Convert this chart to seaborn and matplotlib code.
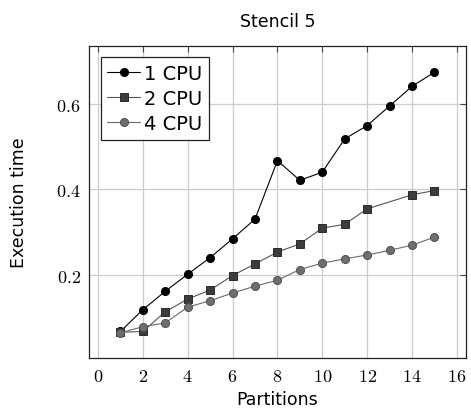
import matplotlib
matplotlib.use("Agg")
import matplotlib.pyplot as plt
import matplotlib.ticker as mticker
import seaborn as sns
import pandas as pd

# data
partitions = [1, 2, 3, 4, 5, 6, 7, 8, 9, 10, 11, 12, 13, 14, 15]
cpu1 = [0.067, 0.118, 0.161, 0.201, 0.240, 0.284, 0.330, 0.467, 0.421,
        0.440, 0.518, 0.549, 0.595, 0.641, 0.674]
# 2 CPU has no point at 13
partitions_2 = [1, 2, 3, 4, 5, 6, 7, 8, 9, 10, 11, 12, 14, 15]
cpu2 = [0.065, 0.067, 0.113, 0.143, 0.164, 0.198, 0.225, 0.253, 0.272,
        0.309, 0.318, 0.354, 0.387, 0.397]
cpu4 = [0.064, 0.078, 0.087, 0.124, 0.139, 0.157, 0.173, 0.187, 0.212,
        0.227, 0.237, 0.246, 0.257, 0.269, 0.288]

x_ticks = [0, 2, 4, 6, 8, 10, 12, 14, 16]
y_ticks = [0.2, 0.4, 0.6]

sns.set_style("white")
plt.rcParams['font.family'] = ['DejaVu Sans']
plt.rcParams['mathtext.fontset'] = 'cm'
plt.rcParams['text.color'] = 'black'
plt.rcParams['axes.labelcolor'] = 'black'
plt.rcParams['xtick.labelcolor'] = 'black'
plt.rcParams['ytick.labelcolor'] = 'black'

fig = plt.figure(figsize=(4.71, 4.14), dpi=100)
ax = fig.add_axes([0.189, 0.132, 0.800, 0.755])

series = [
    ("1 CPU", partitions, cpu1, "o", "black", "black", "black"),
    ("2 CPU", partitions_2, cpu2, "s", "#555555", "#3c3c3c", "#2a2a2a"),
    ("4 CPU", partitions, cpu4, "o", "#6a6a6a", "#6e6e6e", "#505050"),
]
for label, xs, ys, mk, lc, fc, ec in series:
    df = pd.DataFrame({"Partitions": xs, "Execution time": ys})
    sns.lineplot(data=df, x="Partitions", y="Execution time", ax=ax,
                 label=label, color=lc, marker=mk, markersize=5.8,
                 markerfacecolor=fc, markeredgecolor=ec, markeredgewidth=0.7,
                 linewidth=0.8)

ax.set_xlim(-0.4, 16.4)
ax.set_ylim(0.004, 0.736)
ax.set_xticks(x_ticks)
ax.set_yticks(y_ticks)
ax.xaxis.set_major_formatter(mticker.FuncFormatter(lambda v, p: f"${v:g}$"))
ax.yaxis.set_major_formatter(mticker.FuncFormatter(lambda v, p: f"${v:g}$"))
ax.tick_params(direction="in", length=4, width=0.8, color="#444444",
               top=True, right=True, labelsize=13, pad=6)
ax.grid(True, color="#cccccc", linewidth=0.9)
ax.set_axisbelow(True)
for s in ax.spines.values():
    s.set_color("#222222")
    s.set_linewidth(0.9)

ax.set_title("Stencil 5", fontsize=12.5, pad=14, color="black")
ax.set_xlabel("Partitions", fontsize=12.5, labelpad=4)
ax.set_ylabel("Execution time", fontsize=12.5, labelpad=20)

leg = ax.legend(loc="upper left", fontsize=14, fancybox=False,
                edgecolor="#222222", framealpha=1, borderaxespad=0.6,
                handlelength=1.65, handletextpad=0.25, labelspacing=0.3,
                borderpad=0.35)
leg.get_frame().set_linewidth(0.9)
for t in leg.get_texts():
    t.set_color("black")

fig.savefig("out.png", dpi=100)
